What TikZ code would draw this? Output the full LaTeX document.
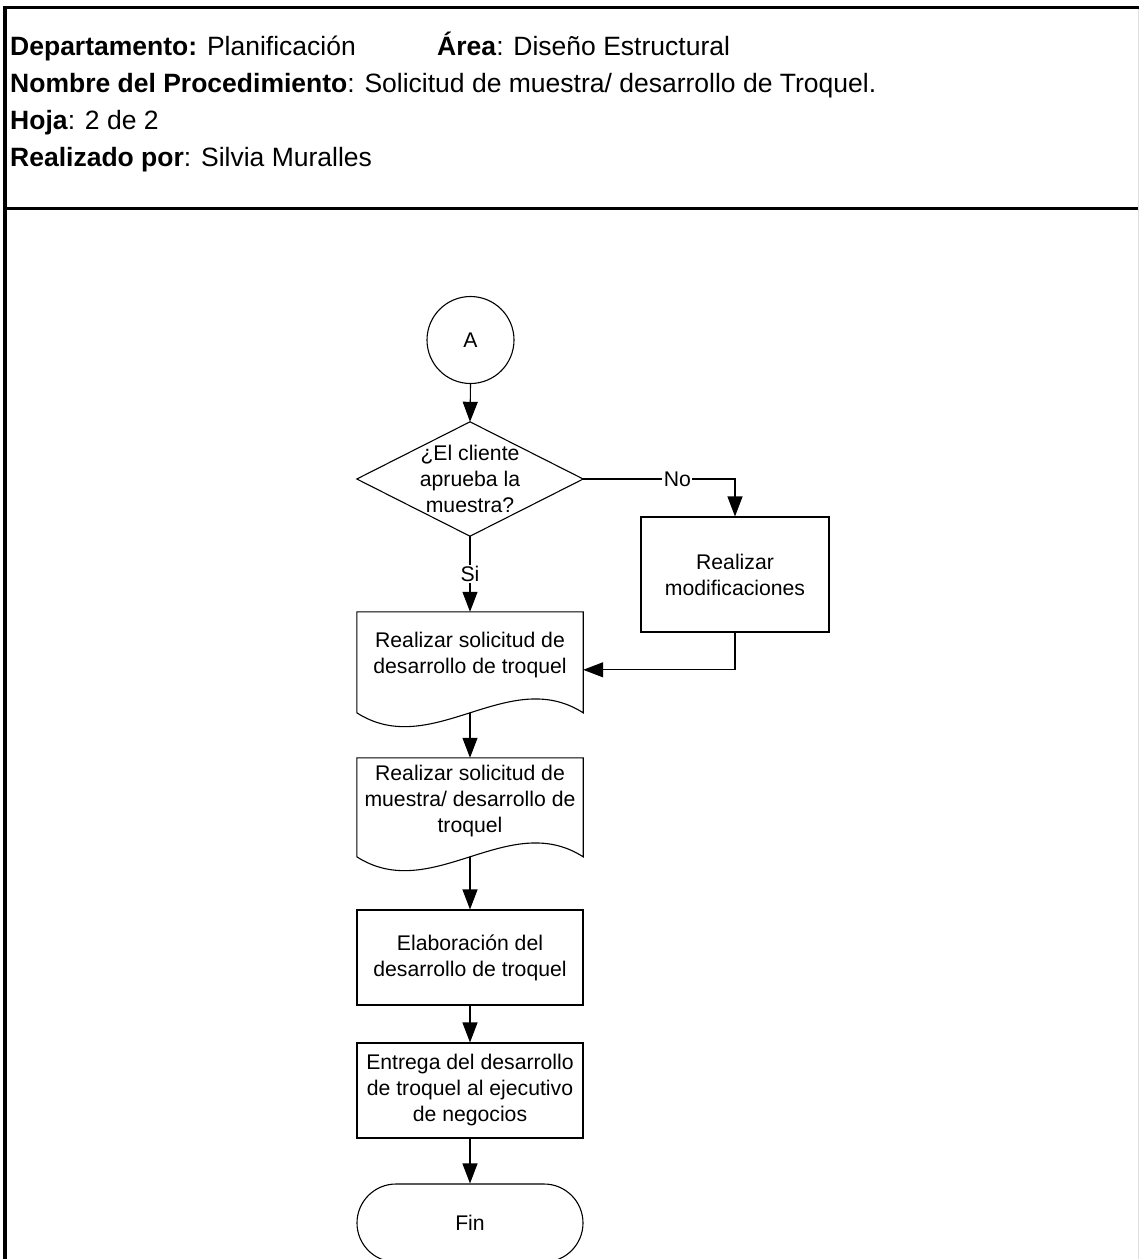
\documentclass[tikz,border=0pt]{standalone}
\usepackage{fontspec}
\setmainfont{Liberation Sans}
\usetikzlibrary{arrows.meta,calc}

\newcommand{\hdrfont}{\fontsize{26.5}{37}\selectfont}
\newcommand{\boxfont}{\fontsize{21.2}{26}\selectfont}

\begin{document}
\begin{tikzpicture}[x=1pt,y=-1pt,
  hdr/.style={font=\hdrfont, inner sep=0pt, anchor=base west},
  outline/.style={line width=1.1pt, line join=miter},
  flowbox/.style={draw, outline, align=center, font=\boxfont, inner sep=0pt,
                  minimum width=226pt, minimum height=95pt},
  textonly/.style={align=center, font=\boxfont, inner sep=0pt, minimum width=226pt},
  conn/.style={line width=1.1pt, -{Triangle[length=20pt,width=15pt]}},
  lbl/.style={fill=white, font=\boxfont, inner sep=1.5pt},
  frame/.style={line width=3.8pt, line cap=butt, line join=miter}
]
\useasboundingbox (0,0) rectangle (1139,1259);
\fill[white] (0,0) rectangle (1139,1259);

% form frame and header divider
\draw[frame] (5,1262) -- (5,7.5) -- (1142,7.5);
\draw[frame] (5,208.5) -- (1142,208.5);
\draw[gray!25, line width=1pt] (1138.5,9) -- (1138.5,1262);

% header fields
\node[hdr] (dep) at (10,55) {\textbf{Departamento:} Planificación};
\node[hdr] (area) at (437,55) {\textbf{Área}: Diseño Estructural};
\node[hdr] (proc) at (10,92) {\textbf{Nombre del Procedimiento}: Solicitud de muestra/ desarrollo de Troquel.};
\node[hdr] (hoja) at (10,129) {\textbf{Hoja}: 2 de 2};
\node[hdr] (real) at (10,166) {\textbf{Realizado por}: Silvia Muralles};

% off-page connector
\node[circle, draw, outline, minimum size=87pt, inner sep=0pt, font=\boxfont] (A) at (470.5,340) {A};

% decision
\node[textonly, minimum height=114pt] (dec) at (470,479) {¿El cliente\\aprueba la\\muestra?};
\draw[outline] (dec.north) -- (dec.east) -- (dec.south) -- (dec.west) -- cycle;

% process: modifications
\node[flowbox, minimum width=188pt, minimum height=115pt] (mod) at (735,574.5) {Realizar\\modificaciones};

% document 1
\node[textonly, minimum height=87pt] (doc1) at (470,655.5) {Realizar solicitud de\\desarrollo de troquel};
\path (doc1.north west) ++(0,101) coordinate (doc1bl);
\path (doc1.north east) ++(0,101) coordinate (doc1br);
\draw[outline] (doc1.north west) -- (doc1.north east) -- (doc1br)
  .. controls ($(doc1br)+(-75,-48)$) and ($(doc1bl)+(75,48)$) .. (doc1bl) -- cycle;

% document 2
\node[textonly, minimum height=86pt] (doc2) at (470,801) {Realizar solicitud de\\muestra/ desarrollo de\\troquel};
\path (doc2.north west) ++(0,99) coordinate (doc2bl);
\path (doc2.north east) ++(0,99) coordinate (doc2br);
\draw[outline] (doc2.north west) -- (doc2.north east) -- (doc2br)
  .. controls ($(doc2br)+(-75,-48)$) and ($(doc2bl)+(75,48)$) .. (doc2bl) -- cycle;

% processes
\node[flowbox] (elab) at (470,957.5) {Elaboración del\\desarrollo de troquel};
\node[flowbox] (entr) at (470,1090.5) {Entrega del desarrollo\\de troquel al ejecutivo\\de negocios};

% terminator
\node[flowbox, rounded corners=39pt, minimum height=78pt] (fin) at (470,1223) {Fin};

% connectors
\coordinate (doc1in) at ($(doc1.north east)+(0,58)$);
\coordinate (doc1out) at ($(doc1.north)+(0,101)$);
\coordinate (doc2out) at ($(doc2.north)+(0,99)$);

\draw[conn] (A.south) -- (dec.north);
\draw[conn] (dec.east) -| node[lbl, pos=0.31] {No} (mod.north);
\draw[conn] (dec.south) -- node[lbl] {Si} (doc1.north);
\draw[conn] (mod.south) |- (doc1in);
\draw[conn] (doc1out) -- (doc2.north);
\draw[conn] (doc2out) -- (elab.north);
\draw[conn] (elab.south) -- (entr.north);
\draw[conn] (entr.south) -- (fin.north);
\end{tikzpicture}
\end{document}
